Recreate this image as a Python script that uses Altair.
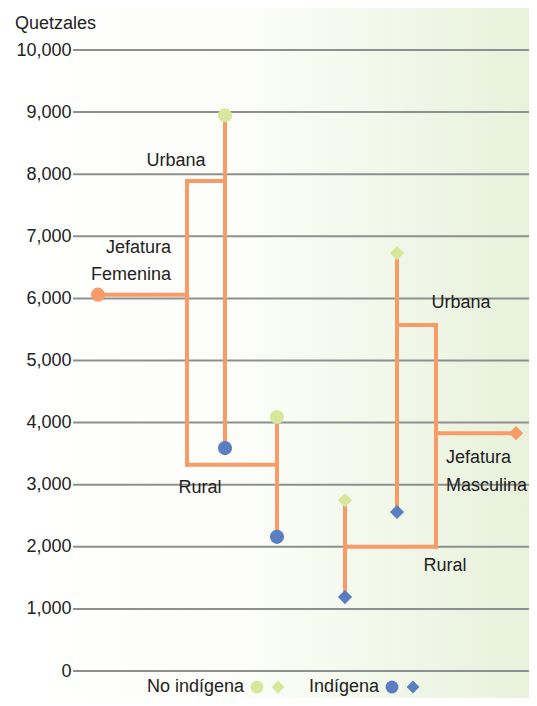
import altair as alt
import pandas as pd

# ---- values (Quetzales) ----
groups = ["Jefatura Femenina", "Jefatura Masculina"]
jefatura = [6060, 3830]
urbana = [7890, 5570]
rural = [3320, 2000]
urbana_no_indigena = [8950, 6730]
urbana_indigena = [3590, 2560]
rural_no_indigena = [4090, 2750]
rural_indigena = [2160, 1190]
y_ticks = list(range(0, 10001, 1000))
group_shapes = ["circle", "diamond"]

# ---- tree layout columns (horizontal units) ----
root_col = [25, 443]
split_col = [114, 363]
urb_col = [152, 324]
rur_col = [204, 272]

ORANGE = "#f89b66"
GREEN = "#d7e79c"
BLUE = "#5b7ec0"
GRID = "#8f8f8f"
TXT = "#222222"
FONT = "Liberation Sans"
W, H = 456, 621

seg_rows, pt_rows = [], []
for i in range(2):
    seg_rows += [
        dict(x=root_col[i], x2=split_col[i], y=jefatura[i], y2=jefatura[i]),
        dict(x=split_col[i], x2=split_col[i], y=rural[i], y2=urbana[i]),
        dict(x=split_col[i], x2=urb_col[i], y=urbana[i], y2=urbana[i]),
        dict(x=split_col[i], x2=rur_col[i], y=rural[i], y2=rural[i]),
        dict(x=urb_col[i], x2=urb_col[i], y=urbana_indigena[i], y2=urbana_no_indigena[i]),
        dict(x=rur_col[i], x2=rur_col[i], y=rural_indigena[i], y2=rural_no_indigena[i]),
    ]
    sh = group_shapes[i]
    pt_rows += [
        dict(x=root_col[i], y=jefatura[i], shape=sh, color=ORANGE),
        dict(x=urb_col[i], y=urbana_no_indigena[i], shape=sh, color=GREEN),
        dict(x=urb_col[i], y=urbana_indigena[i], shape=sh, color=BLUE),
        dict(x=rur_col[i], y=rural_no_indigena[i], shape=sh, color=GREEN),
        dict(x=rur_col[i], y=rural_indigena[i], shape=sh, color=BLUE),
    ]
segs = pd.DataFrame(seg_rows)
pts = pd.DataFrame(pt_rows)

# ---- branch labels (text, anchor column, baseline value) ----
lab_center = pd.DataFrame(dict(
    text=["Urbana", "Rural", "Urbana", "Rural"],
    x=[103, 127, 388, 372],
    y=[8130, 2870, 5845, 1610]))
lab_right = pd.DataFrame(dict(text=["Jefatura", "Femenina"], x=[98, 98], y=[6730, 6300]))
lab_left = pd.DataFrame(dict(text=["Jefatura", "Masculina"], x=[373, 373], y=[3350, 2900]))

xs = alt.Scale(domain=[0, W], nice=False, zero=False)
ys = alt.Scale(domain=[0, 10000], nice=False)

grad = alt.Gradient(
    gradient="linear",
    stops=[alt.GradientStop(color="#ffffff", offset=0),
           alt.GradientStop(color="#fcfdf9", offset=0.45),
           alt.GradientStop(color="#e8f2db", offset=1)],
    x1=0, x2=1, y1=0, y2=0)

bg = alt.Chart(pd.DataFrame({"a": [0]})).mark_rect(color=grad, clip=False).encode(
    x=alt.value(-65), x2=alt.value(W), y=alt.value(-42), y2=alt.value(H + 27))

yaxis = alt.Axis(
    title=None, grid=False, domain=False, ticks=False, tickSize=0, zindex=2,
    labelPadding=2, labelFontSize=18, labelColor=TXT, labelFont=FONT,
    values=y_ticks, format=",.0f")

grid = alt.Chart(pd.DataFrame({"v": y_ticks})).mark_rule(color=GRID, strokeWidth=2).encode(
    y=alt.Y("v:Q", scale=ys, axis=yaxis),
    x=alt.value(0), x2=alt.value(W))

lines = alt.Chart(segs).mark_rule(color=ORANGE, strokeWidth=4, strokeCap="square").encode(
    x=alt.X("x:Q", scale=xs, axis=None), x2="x2:Q",
    y=alt.Y("y:Q", scale=ys, axis=yaxis), y2="y2:Q")

points = alt.Chart(pts).mark_point(filled=True, opacity=1, size=200).encode(
    x=alt.X("x:Q", scale=xs, axis=None),
    y=alt.Y("y:Q", scale=ys, axis=yaxis),
    shape=alt.Shape("shape:N", scale=None),
    color=alt.Color("color:N", scale=None))

def labels(df, align):
    return alt.Chart(df).mark_text(align=align, baseline="alphabetic", fontSize=18,
                                   font=FONT, color=TXT).encode(
        x=alt.X("x:Q", scale=xs, axis=None), y=alt.Y("y:Q", scale=ys, axis=yaxis),
        text="text:N")

title = alt.Chart(pd.DataFrame({"t": ["Quetzales"]})).mark_text(
    align="left", baseline="alphabetic", fontSize=18, font=FONT, color=TXT).encode(
    x=alt.value(-58), y=alt.value(-21), text="t:N")

# ---- legend ----
leg_text = pd.DataFrame(dict(t=["No indígena", "Indígena"], px=[171, 306]))
leg_marks = pd.DataFrame(dict(
    px=[184, 205, 319, 340],
    shape=["circle", "diamond", "circle", "diamond"],
    color=[GREEN, GREEN, BLUE, BLUE]))
leg_t = alt.Chart(leg_text).mark_text(align="right", baseline="alphabetic", fontSize=18,
                                      font=FONT, color=TXT).encode(
    x=alt.X("px:Q", scale=None), y=alt.value(H + 21), text="t:N")
leg_m = alt.Chart(leg_marks).mark_point(filled=True, opacity=1, size=165).encode(
    x=alt.X("px:Q", scale=None), y=alt.value(H + 16),
    shape=alt.Shape("shape:N", scale=None),
    color=alt.Color("color:N", scale=None))

chart = alt.layer(
    bg, grid, lines, points,
    labels(lab_center, "center"), labels(lab_right, "right"), labels(lab_left, "left"),
    title, leg_t, leg_m
).properties(
    width=W, height=H,
    autosize=alt.AutoSizeParams(type="none"),
    padding={"left": 65, "top": 42, "right": 0, "bottom": 27},
    background="#ffffff"
).configure_view(strokeWidth=0)

chart.save("out.html", embed_options={"renderer": "svg", "actions": False})
